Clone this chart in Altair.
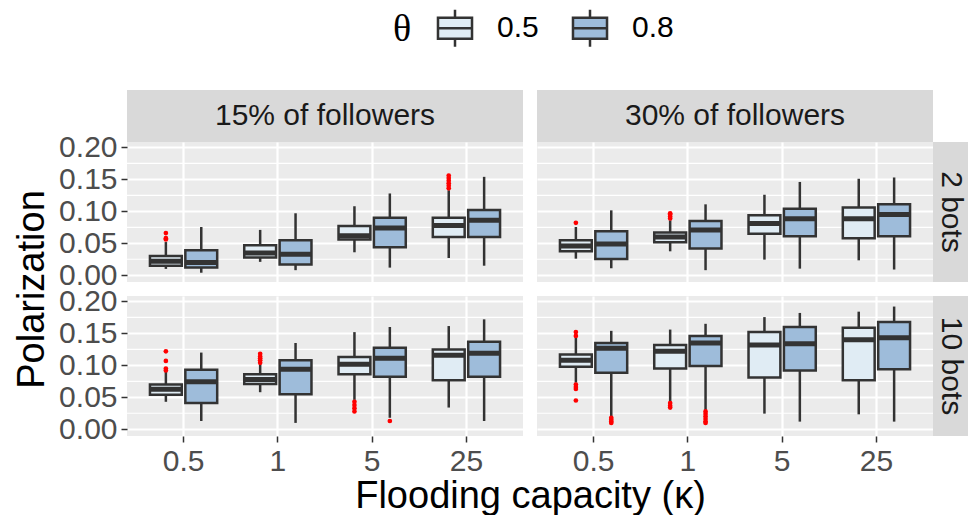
import altair as alt
import pandas as pd

followers = ["15% of followers", "30% of followers"]
bots = ["2 bots", "10 bots"]
kappa = ["0.5", "1", "5", "25"]
theta = ["0.5", "0.8"]

# order of every box array: (k0.5,t0.5),(k0.5,t0.8),(k1,t0.5),(k1,t0.8),(k5,t0.5),(k5,t0.8),(k25,t0.5),(k25,t0.8)
low_15_2 = [0.010, 0.004, 0.021, 0.008, 0.036, 0.012, 0.027, 0.015]
q1_15_2 = [0.015, 0.012, 0.028, 0.017, 0.056, 0.044, 0.060, 0.060]
med_15_2 = [0.022, 0.020, 0.035, 0.033, 0.062, 0.074, 0.078, 0.086]
q3_15_2 = [0.030, 0.039, 0.047, 0.055, 0.077, 0.090, 0.090, 0.102]
high_15_2 = [0.052, 0.0755, 0.071, 0.097, 0.108, 0.128, 0.133, 0.154]

low_30_2 = [0.026, 0.011, 0.0375, 0.008, 0.0245, 0.0104, 0.0234, 0.009]
q1_30_2 = [0.0375, 0.0255, 0.0516, 0.042, 0.065, 0.061, 0.058, 0.061]
med_30_2 = [0.046, 0.049, 0.060, 0.071, 0.081, 0.0885, 0.0885, 0.095]
q3_30_2 = [0.055, 0.069, 0.067, 0.085, 0.094, 0.104, 0.106, 0.111]
high_30_2 = [0.0755, 0.1016, 0.086, 0.111, 0.126, 0.146, 0.151, 0.153]

low_15_10 = [0.043, 0.013, 0.058, 0.010, 0.046, 0.018, 0.034, 0.013]
q1_15_10 = [0.054, 0.041, 0.071, 0.055, 0.086, 0.082, 0.0766, 0.082]
med_15_10 = [0.0625, 0.0745, 0.078, 0.094, 0.1016, 0.111, 0.116, 0.119]
q3_15_10 = [0.070, 0.093, 0.086, 0.108, 0.113, 0.1276, 0.125, 0.137]
high_15_10 = [0.090, 0.120, 0.1016, 0.135, 0.152, 0.160, 0.1615, 0.172]

low_30_10 = [0.073, 0.020, 0.043, 0.030, 0.0245, 0.012, 0.0234, 0.012]
q1_30_10 = [0.098, 0.0885, 0.095, 0.099, 0.081, 0.092, 0.0766, 0.094]
med_30_10 = [0.108, 0.1266, 0.122, 0.135, 0.132, 0.134, 0.140, 0.143]
q3_30_10 = [0.117, 0.135, 0.132, 0.146, 0.152, 0.160, 0.159, 0.168]
high_30_10 = [0.143, 0.154, 0.156, 0.165, 0.1755, 0.182, 0.184, 0.192]

# outliers: (kappa, theta, value)
out_15_2 = [("0.5", "0.5", 0.056), ("0.5", "0.5", 0.058), ("0.5", "0.5", 0.066),
            ("25", "0.5", 0.136), ("25", "0.5", 0.140), ("25", "0.5", 0.144),
            ("25", "0.5", 0.148), ("25", "0.5", 0.152), ("25", "0.5", 0.156)]
out_30_2 = [("0.5", "0.5", 0.082),
            ("1", "0.5", 0.089), ("1", "0.5", 0.092), ("1", "0.5", 0.095), ("1", "0.5", 0.097)]
out_15_10 = [("0.5", "0.5", 0.092), ("0.5", "0.5", 0.095), ("0.5", "0.5", 0.107), ("0.5", "0.5", 0.122),
             ("1", "0.5", 0.104), ("1", "0.5", 0.108), ("1", "0.5", 0.111), ("1", "0.5", 0.114), ("1", "0.5", 0.118),
             ("5", "0.5", 0.043), ("5", "0.5", 0.038), ("5", "0.5", 0.033), ("5", "0.5", 0.028),
             ("5", "0.8", 0.013)]
out_30_10 = [("0.5", "0.5", 0.152), ("0.5", "0.5", 0.146), ("0.5", "0.5", 0.070), ("0.5", "0.5", 0.066),
             ("0.5", "0.5", 0.063), ("0.5", "0.5", 0.045),
             ("0.5", "0.8", 0.018), ("0.5", "0.8", 0.015), ("0.5", "0.8", 0.012), ("0.5", "0.8", 0.010),
             ("1", "0.5", 0.041), ("1", "0.5", 0.037), ("1", "0.5", 0.034),
             ("1", "0.8", 0.028), ("1", "0.8", 0.024), ("1", "0.8", 0.020), ("1", "0.8", 0.016),
             ("1", "0.8", 0.012), ("1", "0.8", 0.010)]

y_ticks = [0.0, 0.05, 0.10, 0.15, 0.20]
y_minor = [0.025, 0.075, 0.125, 0.175]
y_domain = [-0.0105, 0.2085]
fill_colors = ["#E0ECF4", "#9EBCDA"]


def box_table(f, b, low, q1, med, q3, high):
    rows = []
    i = 0
    for k in kappa:
        for t in theta:
            rows.append(dict(followers=f, bots=b, kappa=k, theta=t, low=low[i], q1=q1[i],
                             med=med[i], q3=q3[i], high=high[i]))
            i += 1
    return pd.DataFrame(rows)


def out_table(outs):
    return pd.DataFrame([dict(kappa=k, theta=t, v=v) for k, t, v in outs])


panels = {
    (followers[0], bots[0]): (box_table(followers[0], bots[0], low_15_2, q1_15_2, med_15_2, q3_15_2, high_15_2), out_table(out_15_2)),
    (followers[1], bots[0]): (box_table(followers[1], bots[0], low_30_2, q1_30_2, med_30_2, q3_30_2, high_30_2), out_table(out_30_2)),
    (followers[0], bots[1]): (box_table(followers[0], bots[1], low_15_10, q1_15_10, med_15_10, q3_15_10, high_15_10), out_table(out_15_10)),
    (followers[1], bots[1]): (box_table(followers[1], bots[1], low_30_10, q1_30_10, med_30_10, q3_30_10, high_30_10), out_table(out_30_10)),
}

W, H = 396, 140
STRIP_H = 52
RSTRIP_W = 35
GAP = 14
FONT = "Liberation Sans"
BOX_W = 31.9

legend = alt.Legend(
    orient="none", legendX=266, legendY=-82, direction="horizontal",
    title="θ", titleOrient="left", titleFont="Liberation Serif", titleFontSize=38,
    titleFontWeight="normal", titleColor="black", titlePadding=23,
    labelFont=FONT, labelFontSize=30, labelColor="black", labelOffset=22,
    columnPadding=28,
    symbolType="M-0.92,-0.57H0.92V0.57H-0.92Z M-0.92,0H0.92 M0,-0.57V-1 M0,0.57V1",
    symbolSize=1369, symbolStrokeColor="#333333", symbolStrokeWidth=2.5, symbolOpacity=1,
)


def panel(f, b, show_x, show_y, y_title=False, x_title=False):
    boxes, outs = panels[(f, b)]
    xscale = alt.Scale(domain=kappa, paddingInner=0, paddingOuter=0.1)
    xoscale = alt.Scale(domain=theta, paddingInner=0.1, paddingOuter=0.382)
    yscale = alt.Scale(domain=y_domain, nice=False, zero=False)
    if show_x:
        xaxis = alt.Axis(
            title="Flooding capacity (κ)" if x_title else None,
            labelAngle=0, labelFontSize=30, labelColor="#4D4D4D", labelFont=FONT,
            tickColor="#333333", tickWidth=1.5, tickSize=6, labelPadding=4,
            domain=False, grid=True, gridColor="white", gridWidth=2.2, bandPosition=0.5,
            titleFontSize=38, titleColor="black", titleFontWeight="normal", titleFont=FONT,
            titleX=403, titleY=71, titleBaseline="alphabetic", titleAlign="center",
        )
    else:
        xaxis = alt.Axis(title=None, labels=False, ticks=False, domain=False, grid=True,
                         gridColor="white", gridWidth=2.2, bandPosition=0.5)
    if show_y:
        yaxis = alt.Axis(
            title="Polarization" if y_title else None, values=y_ticks, format=".2f",
            labelFontSize=30, labelColor="#4D4D4D", labelFont=FONT,
            tickColor="#333333", tickWidth=1.5, tickSize=6, labelPadding=4,
            domain=False, grid=True, gridColor="white", gridWidth=2.2,
            titleFontSize=38, titleColor="black", titleFontWeight="normal", titleFont=FONT,
            titleAngle=270, titleX=-84, titleY=147, titleBaseline="alphabetic", titleAlign="center",
        )
    else:
        yaxis = alt.Axis(title=None, values=y_ticks, labels=False, ticks=False, domain=False,
                         grid=True, gridColor="white", gridWidth=2.2)

    X = alt.X("kappa:N", sort=kappa, scale=xscale, axis=xaxis)
    XO = alt.XOffset("theta:N", sort=theta, scale=xoscale)

    minor = alt.Chart(pd.DataFrame({"v": y_minor})).mark_rule(color="white", strokeWidth=1.1).encode(
        y=alt.Y("v:Q", scale=yscale, axis=yaxis)
    )
    base = alt.Chart(boxes)
    whisk = base.mark_rule(color="#333333", strokeWidth=2.5).encode(
        x=X, xOffset=XO, y=alt.Y("low:Q", scale=yscale, axis=yaxis), y2="high:Q"
    )
    box = base.mark_bar(stroke="#333333", strokeWidth=2.5, opacity=1).encode(
        x=X, xOffset=XO, y=alt.Y("q1:Q", scale=yscale, axis=yaxis), y2="q3:Q",
        fill=alt.Fill("theta:N", sort=theta, scale=alt.Scale(domain=theta, range=fill_colors), legend=legend),
    )
    med = base.mark_tick(color="#333333", thickness=5, size=BOX_W, opacity=1, orient="horizontal").encode(
        x=X, xOffset=XO, y=alt.Y("med:Q", scale=yscale, axis=yaxis)
    )
    layers = [minor, whisk, box, med]
    if len(outs):
        pts = alt.Chart(outs).mark_circle(color="red", size=22, opacity=1).encode(
            x=X, xOffset=XO, y=alt.Y("v:Q", scale=yscale, axis=yaxis)
        )
        layers.append(pts)
    return alt.layer(*layers).properties(
        width=W, height=H, view=alt.ViewBackground(fill="#EBEBEB", stroke=None)
    )


def top_strip(label):
    return alt.Chart(pd.DataFrame({"label": [label]})).mark_text(
        fontSize=30, color="#1A1A1A", font=FONT
    ).encode(text="label:N").properties(
        width=W, height=STRIP_H, view=alt.ViewBackground(fill="#D9D9D9", stroke=None)
    )


def right_strip(label):
    return alt.Chart(pd.DataFrame({"label": [label]})).mark_text(
        fontSize=30, color="#1A1A1A", font=FONT, angle=90
    ).encode(text="label:N").properties(
        width=RSTRIP_W, height=H, view=alt.ViewBackground(fill="#D9D9D9", stroke=None)
    )


def spacer(w, h):
    return alt.Chart(pd.DataFrame({"z": [0]})).mark_point(opacity=0).encode(
        x=alt.value(0), y=alt.value(0)
    ).properties(width=w, height=h, view=alt.ViewBackground(stroke=None))


cells = [
    top_strip(followers[0]), spacer(GAP, STRIP_H), top_strip(followers[1]), spacer(RSTRIP_W, STRIP_H),
    panel(followers[0], bots[0], False, True, y_title=True), spacer(GAP, H),
    panel(followers[1], bots[0], False, False), right_strip(bots[0]),
    spacer(W, GAP), spacer(GAP, GAP), spacer(W, GAP), spacer(RSTRIP_W, GAP),
    panel(followers[0], bots[1], True, True, x_title=True), spacer(GAP, H),
    panel(followers[1], bots[1], True, False), right_strip(bots[1]),
]

chart = alt.concat(*cells, columns=4, spacing=0, bounds="flush", align="each").resolve_scale(
    fill="shared"
).properties(
    padding={"left": 5, "top": 0, "right": 0, "bottom": 0}
).configure(font=FONT).configure_view(stroke=None)

chart.save("out.html", embed_options={"renderer": "svg", "actions": False})
